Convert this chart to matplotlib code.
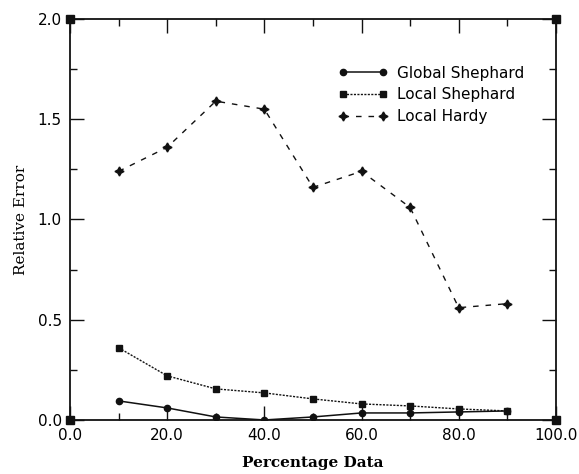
import matplotlib
matplotlib.use('Agg')
import matplotlib.pyplot as plt
from matplotlib.ticker import MultipleLocator, FormatStrFormatter

pct = [10, 20, 30, 40, 50, 60, 70, 80, 90]
global_shep = [0.095, 0.06, 0.015, 0.0, 0.015, 0.035, 0.035, 0.04, 0.045]
local_shep = [0.36, 0.22, 0.155, 0.135, 0.105, 0.08, 0.07, 0.055, 0.045]
local_hardy = [1.24, 1.36, 1.59, 1.55, 1.16, 1.24, 1.06, 0.56, 0.58]

fig = plt.figure(figsize=(5.79, 4.74), dpi=100)
ax = fig.add_axes([0.121, 0.114, 0.839, 0.846])

ax.plot(pct, global_shep, color='#111111', lw=1.1, marker='o', ms=4.5,
        label='Global Shephard')
ax.plot(pct, local_shep, color='#111111', lw=1.0, ls=(0, (1.5, 1)), marker='s',
        ms=5, label='Local Shephard')
ax.plot(pct, local_hardy, color='#111111', lw=1.0, ls=(0, (4, 5)),
        marker=(4, 1, 0), ms=6.5, label='Local Hardy')

# corner squares
ax.plot([0, 100, 0, 100], [0, 0, 2, 2], ls='none', marker='s', ms=6,
        color='#111111', clip_on=False)

ax.set_xlim(0, 100)
ax.set_ylim(0, 2)
ax.xaxis.set_major_locator(MultipleLocator(20))
ax.xaxis.set_minor_locator(MultipleLocator(10))
ax.yaxis.set_major_locator(MultipleLocator(0.5))
ax.yaxis.set_minor_locator(MultipleLocator(0.25))
ax.xaxis.set_major_formatter(FormatStrFormatter('%.1f'))
ax.yaxis.set_major_formatter(FormatStrFormatter('%.1f'))
ax.tick_params(which='both', direction='in', top=True, right=True,
               color='#111111', width=1.0)
ax.tick_params(which='major', length=10, labelsize=11, pad=6)
ax.tick_params(which='minor', length=5)
for s in ax.spines.values():
    s.set_linewidth(1.3)
    s.set_color('#111111')

ax.set_xlabel('Percentage Data', family='DejaVu Serif', fontsize=11,
              fontweight='bold', labelpad=9)
ax.set_ylabel('Relative Error', family='DejaVu Serif', fontsize=11,
              labelpad=7)

ax.legend(loc='upper left', bbox_to_anchor=(0.525, 0.918), frameon=False,
          numpoints=2, handlelength=3.2, fontsize=11, labelspacing=0.45,
          handletextpad=0.6)

fig.savefig('out.png', dpi=100, facecolor='white')
